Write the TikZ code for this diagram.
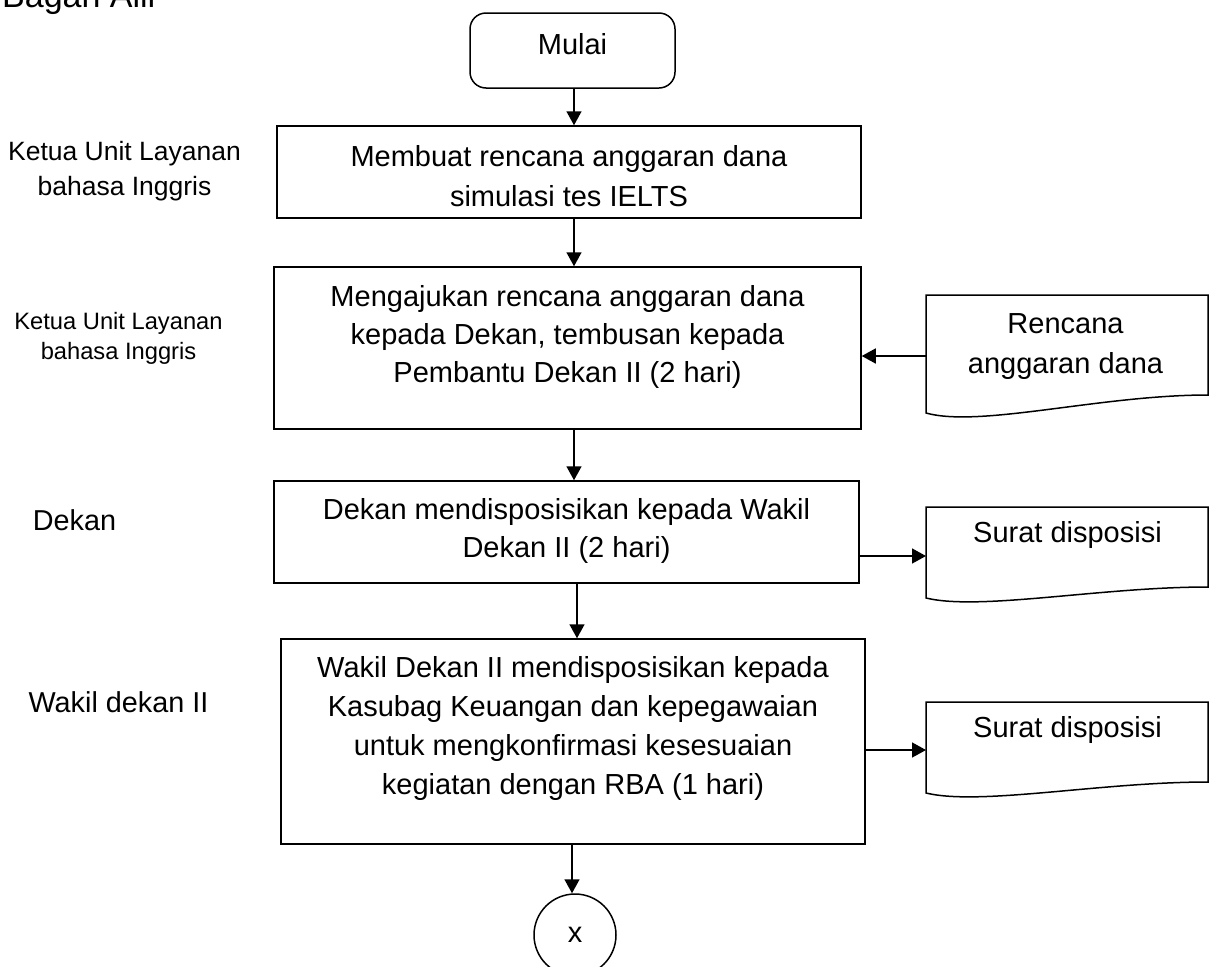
\documentclass[tikz,border=0pt]{standalone}
\usepackage{fontspec}
\setmainfont{Liberation Sans}
\usetikzlibrary{arrows.meta,shapes.geometric}
\begin{document}
\begin{tikzpicture}[x=1pt,y=-1pt,
  box/.style={draw,line width=1.5pt,rectangle,inner sep=0pt},
  txt/.style={align=center,inner sep=0pt,font=\fontsize{29}{39}\selectfont},
  lbl/.style={align=center,inner sep=0pt},
  arr/.style={line width=1.5pt,-{Triangle[length=14pt,width=15pt]}},
  docshape/.style={draw,line width=1.5pt,line join=miter}]
\useasboundingbox (0,0) rectangle (1211,967);

% title (cut off at top)
\node[anchor=base west,inner sep=0pt,font=\fontsize{34}{40}\selectfont] (title) at (2,7) {Bagan Alir};

% left labels
\node[lbl,font=\fontsize{26.5}{35}\selectfont] (l1) at (124.5,171) {Ketua Unit Layanan\\bahasa Inggris};
\node[lbl,font=\fontsize{23.7}{30}\selectfont] (l2) at (118.5,338.5) {Ketua Unit Layanan\\bahasa Inggris};
\node[lbl,font=\fontsize{28.8}{35}\selectfont] (l3) at (74.5,520) {Dekan};
\node[lbl,font=\fontsize{28.8}{35}\selectfont] (l4) at (118.5,702) {Wakil dekan II};

% main column
\node[box,rounded corners=16pt,minimum width=205pt,minimum height=75pt] (start) at (572.5,50.5) {};
\node[txt] (tstart) at (572.5,44) {Mulai};

\node[box,minimum width=584pt,minimum height=92pt] (b1) at (569,172) {};
\node[txt,font=\fontsize{29}{40}\selectfont] (t1) at (569,176.5) {Membuat rencana anggaran dana\\simulasi tes IELTS};

\node[box,minimum width=587pt,minimum height=162pt] (b2) at (567.5,348) {};
\node[txt,font=\fontsize{29}{38}\selectfont] (t2) at (567.5,336.5) {Mengajukan rencana anggaran dana\\kepada Dekan, tembusan kepada\\Pembantu Dekan II (2 hari)};

\node[box,minimum width=585pt,minimum height=102pt] (b3) at (566.5,532) {};
\node[txt,font=\fontsize{29}{38}\selectfont] (t3) at (566.5,530.5) {Dekan mendisposisikan kepada Wakil\\Dekan II (2 hari)};

\node[box,minimum width=584pt,minimum height=205pt] (b4) at (573,741.5) {};
\node[txt,font=\fontsize{29}{39}\selectfont] (t4) at (573,728) {Wakil Dekan II mendisposisikan kepada\\Kasubag Keuangan dan kepegawaian\\untuk mengkonfirmasi kesesuaian\\kegiatan dengan RBA (1 hari)};

\node[draw,circle,line width=1.5pt,minimum size=82pt,inner sep=0pt,font=\fontsize{29}{35}\selectfont] (conn) at (575,935) {x};

% documents
\draw[docshape] (926,295) -- (1208,295) -- (1208,395) .. controls (1100,395) and (980,428) .. (926,413) -- cycle;
\node[txt,font=\fontsize{29}{40}\selectfont] (d1) at (1065.5,347) {Rencana\\anggaran dana};
\draw[docshape] (926,507) -- (1208,507) -- (1208,587) .. controls (1100,587) and (980,611) .. (926,598) -- cycle;
\node[txt] (d2) at (1067.5,535) {Surat disposisi};
\draw[docshape] (926,702) -- (1208,702) -- (1208,782) .. controls (1100,782) and (980,806) .. (926,793) -- cycle;
\node[txt] (d3) at (1067.5,730) {Surat disposisi};

\coordinate (d1w) at (926,356);
\coordinate (d2w) at (926,556);
\coordinate (d3w) at (926,750);

% connectors
\coordinate (ca) at (574,0);
\coordinate (cb) at (577,0);
\coordinate (cc) at (572,0);
\draw[arr] (start.south -| ca) -- (b1.north -| ca);
\draw[arr] (b1.south -| ca) -- (b2.north -| ca);
\draw[arr] (b2.south -| ca) -- (b3.north -| ca);
\draw[arr] (b3.south -| cb) -- (b4.north -| cb);
\draw[arr] (b4.south -| cc) -- (conn.north -| cc);

\draw[arr] (d1w) -- (b2.east |- d1w);
\draw[arr] (b3.east |- d2w) -- (d2w);
\draw[arr] ([xshift=-1pt]b4.east |- d3w) -- (d3w);
\end{tikzpicture}
\end{document}
